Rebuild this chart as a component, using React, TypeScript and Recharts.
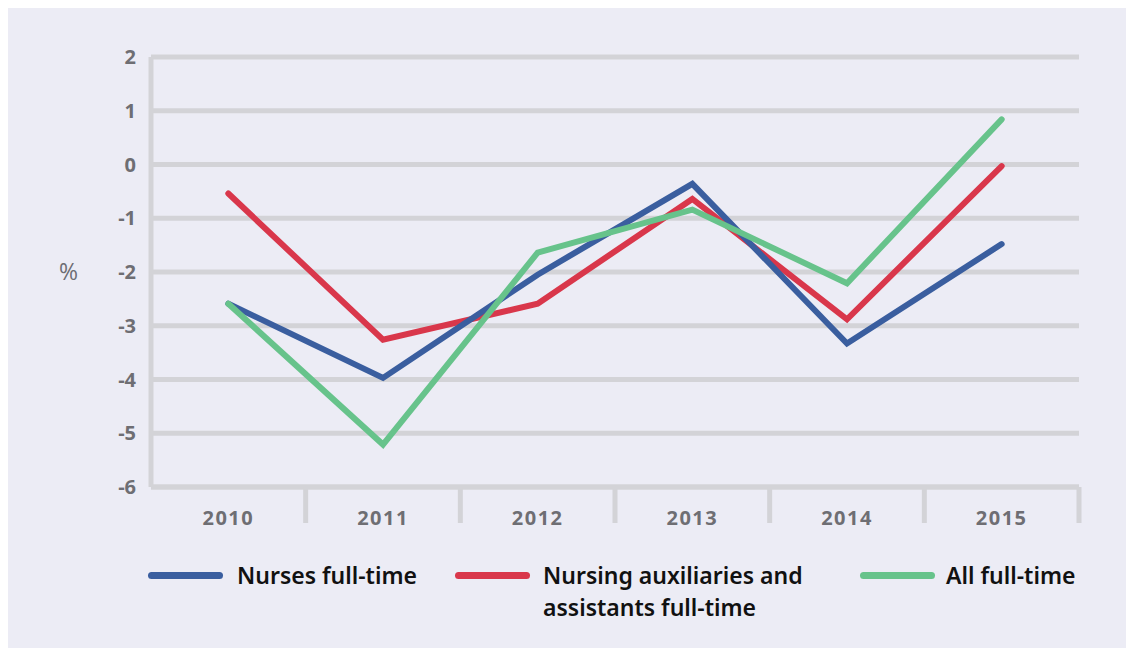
import { CartesianGrid, Line, LineChart, XAxis, YAxis } from "recharts";

const years = ["2010", "2011", "2012", "2013", "2014", "2015"];
const nurses = [-2.59, -3.97, -2.05, -0.36, -3.33, -1.48];
const auxiliaries = [-0.54, -3.26, -2.59, -0.64, -2.88, -0.03];
const allFullTime = [-2.59, -5.21, -1.64, -0.84, -2.21, 0.84];
const yTicks = [-6, -5, -4, -3, -2, -1, 0, 1, 2];

const data = years.map((y, i) => ({
  year: y,
  nurses: nurses[i],
  aux: auxiliaries[i],
  all: allFullTime[i],
}));

const BLUE = "#3A5E9F";
const RED = "#D9374B";
const GREEN = "#67C38B";
const GRID = "#D3D3D7";
const TICK = "#6E6E73";

const W = 1126;
const H = 640;
const M = { top: 49, right: 55, left: 43, bottom: 131 };
const band = (W - M.left - 100 - M.right) / years.length;

const XTick = (props: any) => {
  const { x, y, payload } = props;
  return (
    <g>
      <line x1={x + band / 2} x2={x + band / 2} y1={y} y2={y + 36} stroke={GRID} strokeWidth={5} />
      <text
        x={x}
        y={y + 30}
        textAnchor="middle"
        dominantBaseline="central"
        fill={TICK}
        fontSize={20}
        fontWeight={700}
        letterSpacing={1.5}
        fontFamily="'Open Sans', sans-serif"
      >
        {payload.value}
      </text>
    </g>
  );
};

const legendItems = [
  { label: ["Nurses full-time"], color: BLUE, icon: 140, text: 229 },
  { label: ["Nursing auxiliaries and", "assistants full-time"], color: RED, icon: 447, text: 535 },
  { label: ["All full-time"], color: GREEN, icon: 852, text: 938 },
];

const App = () => {
  return (
    <div style={{ position: "relative", width: W, height: H, background: "#ECECF5" }}>
      <LineChart width={W} height={H} data={data} margin={M}>
        <CartesianGrid vertical={false} stroke={GRID} strokeWidth={5} />
        <XAxis
          dataKey="year"
          scale="band"
          height={30}
          axisLine={{ stroke: GRID, strokeWidth: 5 }}
          tickLine={false}
          tickSize={0}
          tickMargin={0}
          interval={0}
          tick={<XTick />}
        />
        <YAxis
          type="number"
          domain={[-6, 2]}
          ticks={yTicks}
          width={100}
          axisLine={{ stroke: GRID, strokeWidth: 5 }}
          tickLine={false}
          tickSize={0}
          tickMargin={15}
          tick={{
            fill: TICK,
            fontSize: 20,
            fontWeight: 700,
            fontFamily: "'Open Sans', sans-serif",
          }}
          label={{
            value: "%",
            position: "insideLeft",
            offset: 8,
            fill: TICK,
            fontSize: 23,
            fontFamily: "'Open Sans', sans-serif",
          }}
        />
        <Line
          dataKey="aux"
          stroke={RED}
          strokeWidth={6}
          strokeLinecap="round"
          strokeLinejoin="miter"
          dot={false}
          activeDot={false}
          isAnimationActive={false}
        />
        <Line
          dataKey="nurses"
          stroke={BLUE}
          strokeWidth={6}
          strokeLinecap="round"
          strokeLinejoin="miter"
          dot={false}
          activeDot={false}
          isAnimationActive={false}
        />
        <Line
          dataKey="all"
          stroke={GREEN}
          strokeWidth={6}
          strokeLinecap="round"
          strokeLinejoin="miter"
          dot={false}
          activeDot={false}
          isAnimationActive={false}
        />
      </LineChart>
      {legendItems.map((it) => (
        <div key={it.color}>
          <div
            style={{
              position: "absolute",
              left: it.icon,
              top: 567 - 3.5,
              width: 75,
              height: 7,
              borderRadius: 4,
              background: it.color,
            }}
          />
          <div
            style={{
              position: "absolute",
              left: it.text,
              top: 551,
              fontFamily: "'Noto Sans', sans-serif",
              fontWeight: 600,
              fontSize: 23,
              lineHeight: "32px",
              color: "#111",
              whiteSpace: "nowrap",
            }}
          >
            {it.label.map((l) => (
              <div key={l}>{l}</div>
            ))}
          </div>
        </div>
      ))}
    </div>
  );
};

export default App;
